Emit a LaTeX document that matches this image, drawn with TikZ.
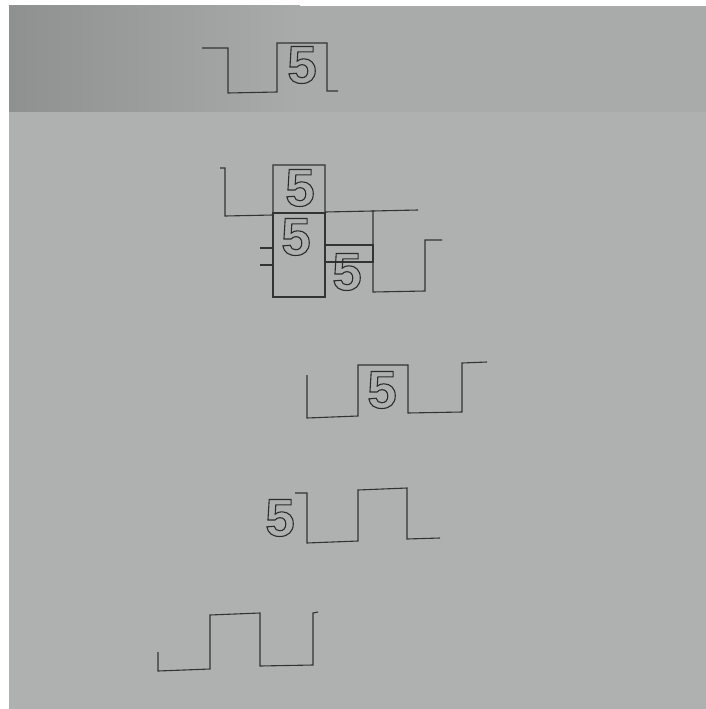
\documentclass[tikz,border=0pt]{standalone}
\usepackage{fontspec}
\setmainfont{Liberation Sans}
\definecolor{paper}{HTML}{A9ABAA}
\definecolor{paperlow}{HTML}{AFB1B0}
\definecolor{shade}{HTML}{8E9190}
\definecolor{ink}{HTML}{333333}
\tikzset{
  wave/.style={draw=ink, line width=1.1pt, line join=miter},
  digit/.style={inner sep=0pt, font=\fontsize{53}{53}\selectfont\bfseries, text=ink},
}
\newcommand{\strokefive}{\special{pdf:code q 1 Tr 1.1 w 0.17 0.17 0.17 RG}5\special{pdf:code Q}}
\begin{document}
\begin{tikzpicture}[x=1pt,y=-1pt]
\useasboundingbox (0,0) rectangle (706,709);
\fill[white] (0,0) rectangle (706,709);
\fill[paper] (9,6) rectangle (706,709);
\shade[left color=shade, right color=paper] (9,6) rectangle (300,112);
\fill[paperlow] (9,112) rectangle (706,709);
% waveform 1
\draw[wave] (202,48) -- (228,48) -- (228,93) -- (277,92) -- (277,43) -- (327,43) -- (327,91) -- (338,91);
\node[digit] (f1) at (302,65) {\strokefive};
% waveform 2
\draw[wave] (220,168) -- (225,168) -- (225,216) -- (273,215) -- (273,213) -- (273,165) -- (325,165) -- (325,212) -- (373,211) -- (418,210);
\draw[wave] (373,210) -- (373,292) -- (425,291) -- (425,240) -- (442,240);
\draw[wave] (273,213) rectangle (325,297);
\draw[wave] (260,248) -- (273,248) (260,265) -- (273,265);
\draw[wave] (325,245) rectangle (373,262);
\node[digit] (f2) at (300,188) {\strokefive};
\node[digit] (f3) at (296,237) {\strokefive};
\node[digit] (f4) at (347,272) {\strokefive};
% waveform 3
\draw[wave] (307,375) -- (307,418) -- (358,416) -- (358,365) -- (408,365) -- (408,413) -- (462,412) -- (462,363) -- (487,362);
\node[digit] (f5) at (382,390) {\strokefive};
% waveform 4
\draw[wave] (295,493) -- (307,493) -- (307,543) -- (358,541) -- (358,490) -- (407,488) -- (407,539) -- (440,538);
\node[digit] (f6) at (280,518) {\strokefive};
% waveform 5
\draw[wave] (158,652) -- (158,671) -- (210,669) -- (210,615) -- (260,613) -- (260,666) -- (313,665) -- (313,613) -- (318,612);
\end{tikzpicture}
\end{document}
